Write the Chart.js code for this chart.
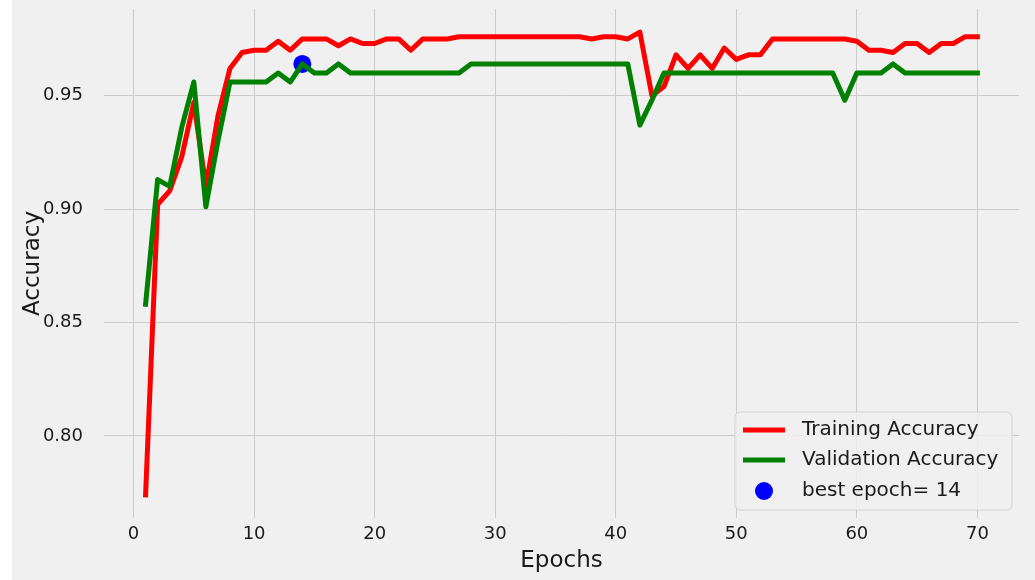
<!DOCTYPE html>
<html>
<head>
<meta charset="utf-8">
<script src="https://cdn.jsdelivr.net/npm/chart.js@4.4.1/dist/chart.umd.min.js"></script>
<style>
html,body{margin:0;padding:0;background:#fff;}
#wrap{width:1035px;height:580px;position:relative;}
</style>
</head>
<body>
<div id="wrap"><canvas id="c"></canvas></div>
<script>
const epochs = [1,2,3,4,5,6,7,8,9,10,11,12,13,14,15,16,17,18,19,20,
  21,22,23,24,25,26,27,28,29,30,31,32,33,34,35,36,37,38,39,40,
  41,42,43,44,45,46,47,48,49,50,51,52,53,54,55,56,57,58,59,60,
  61,62,63,64,65,66,67,68,69,70];

const trainingAccuracy = [0.774,0.902,0.908,0.923,0.947,0.910,0.941,0.962,0.969,0.970,
  0.970,0.974,0.970,0.975,0.975,0.975,0.972,0.975,0.973,0.973,
  0.975,0.975,0.970,0.975,0.975,0.975,0.976,0.976,0.976,0.976,
  0.976,0.976,0.976,0.976,0.976,0.976,0.976,0.975,0.976,0.976,
  0.975,0.978,0.950,0.954,0.968,0.962,0.968,0.962,0.971,0.966,
  0.968,0.968,0.975,0.975,0.975,0.975,0.975,0.975,0.975,0.974,
  0.970,0.970,0.969,0.973,0.973,0.969,0.973,0.973,0.976,0.976];

const validationAccuracy = [0.858,0.913,0.910,0.936,0.956,0.901,0.930,0.956,0.956,0.956,
  0.956,0.960,0.956,0.964,0.960,0.960,0.964,0.960,0.960,0.960,
  0.960,0.960,0.960,0.960,0.960,0.960,0.960,0.964,0.964,0.964,
  0.964,0.964,0.964,0.964,0.964,0.964,0.964,0.964,0.964,0.964,
  0.964,0.937,0.948,0.960,0.960,0.960,0.960,0.960,0.960,0.960,
  0.960,0.960,0.960,0.960,0.960,0.960,0.960,0.960,0.948,0.960,
  0.960,0.960,0.964,0.960,0.960,0.960,0.960,0.960,0.960,0.960];

const bestEpoch = 14;
const xTickValues = [0,10,20,30,40,50,60,70];
const yTickValues = [0.80,0.85,0.90,0.95];
const seriesLabels = ['Training Accuracy','Validation Accuracy','best epoch= ' + bestEpoch];
const axisTitles = {x:'Epochs', y:'Accuracy'};

const FONT = '"DejaVu Sans", "Liberation Sans", sans-serif';

const trainPts = epochs.map((e,i)=>({x:e, y:trainingAccuracy[i]}));
const valPts = epochs.map((e,i)=>({x:e, y:validationAccuracy[i]}));
const bestPt = [{x:bestEpoch, y:validationAccuracy[epochs.indexOf(bestEpoch)]}];

const bgPlugin = {
  id:'bg',
  beforeDraw(chart){
    const ctx = chart.ctx;
    ctx.save();
    ctx.fillStyle = '#ffffff';
    ctx.fillRect(0,0,chart.width,chart.height);
    ctx.fillStyle = '#f0f0f0';
    ctx.fillRect(12,0,chart.width-12,chart.height);
    ctx.restore();
  }
};

const legendPlugin = {
  id:'mplLegend',
  afterDraw(chart){
    const ctx = chart.ctx;
    const ds = chart.data.datasets;
    const bx = 735, by = 412, bw = 277, bh = 98, r = 5;
    ctx.save();
    ctx.beginPath();
    ctx.moveTo(bx+r,by);
    ctx.arcTo(bx+bw,by,bx+bw,by+bh,r);
    ctx.arcTo(bx+bw,by+bh,bx,by+bh,r);
    ctx.arcTo(bx,by+bh,bx,by,r);
    ctx.arcTo(bx,by,bx+bw,by,r);
    ctx.closePath();
    ctx.fillStyle = 'rgba(240,240,240,0.85)';
    ctx.fill();
    ctx.strokeStyle = 'rgba(204,204,204,0.8)';
    ctx.lineWidth = 1;
    ctx.stroke();
    const rows = [430,460,491];
    const order = [1,0,2]; // dataset indices for Training, Validation, best
    ctx.font = '20px ' + FONT;
    ctx.textBaseline = 'middle';
    ctx.textAlign = 'left';
    order.forEach((di,k)=>{
      const d = ds[di];
      const y = rows[k];
      if (d.showLine === false) {
        ctx.beginPath();
        ctx.arc(764,y,9,0,Math.PI*2);
        ctx.fillStyle = d.backgroundColor;
        ctx.fill();
      } else {
        ctx.beginPath();
        ctx.moveTo(743,y);
        ctx.lineTo(785,y);
        ctx.strokeStyle = d.borderColor;
        ctx.lineWidth = 5;
        ctx.lineCap = 'butt';
        ctx.stroke();
      }
      ctx.fillStyle = '#1a1a1a';
      ctx.fillText(d.label, 802, y);
    });
    ctx.restore();
  }
};

new Chart(document.getElementById('c'), {
  type:'line',
  data:{
    datasets:[
      {label:seriesLabels[1], data:valPts, borderColor:'#008000', backgroundColor:'#008000',
       borderWidth:5, pointRadius:0, tension:0, order:0, borderJoinStyle:'round', borderCapStyle:'square'},
      {label:seriesLabels[0], data:trainPts, borderColor:'#ff0000', backgroundColor:'#ff0000',
       borderWidth:5, pointRadius:0, tension:0, order:1, borderJoinStyle:'round', borderCapStyle:'square'},
      {type:'scatter', label:seriesLabels[2], data:bestPt, showLine:false, backgroundColor:'#0000ff',
       borderWidth:0, pointRadius:9, order:2}
    ]
  },
  options:{
    responsive:true,
    maintainAspectRatio:false,
    devicePixelRatio:1,
    animation:false,
    layout:{padding:{left:0, top:6, right:16, bottom:0}},
    plugins:{legend:{display:false}, tooltip:{enabled:false}},
    scales:{
      x:{
        type:'linear',
        min:-2.45, max:73.45,
        afterBuildTicks(s){ s.ticks = xTickValues.map(v=>({value:v})); },
        afterFit(s){ s.height = 62; s.paddingLeft = 0; s.paddingRight = 0; },
        grid:{color:'#cbcbcb', lineWidth:1, drawTicks:false},
        border:{display:false},
        ticks:{padding:6, color:'#1a1a1a', font:{family:FONT, size:18}, callback:v=>String(v), maxRotation:0, autoSkip:false},
        title:{display:true, text:axisTitles.x, color:'#1a1a1a', font:{family:FONT, size:23}, padding:{top:0, bottom:5}}
      },
      y:{
        type:'linear',
        min:0.7638, max:0.9882,
        afterBuildTicks(s){ s.ticks = yTickValues.map(v=>({value:v})); },
        afterFit(s){ s.width = 104; s.paddingTop = 0; s.paddingBottom = 0; },
        grid:{color:'#cbcbcb', lineWidth:1, drawTicks:false},
        border:{display:false},
        ticks:{padding:21, color:'#1a1a1a', font:{family:FONT, size:18}, callback:v=>v.toFixed(2), autoSkip:false},
        title:{display:true, text:axisTitles.y, color:'#1a1a1a', font:{family:FONT, size:23}, padding:{top:19, bottom:0}}
      }
    }
  },
  plugins:[bgPlugin, legendPlugin]
});
</script>
</body>
</html>
